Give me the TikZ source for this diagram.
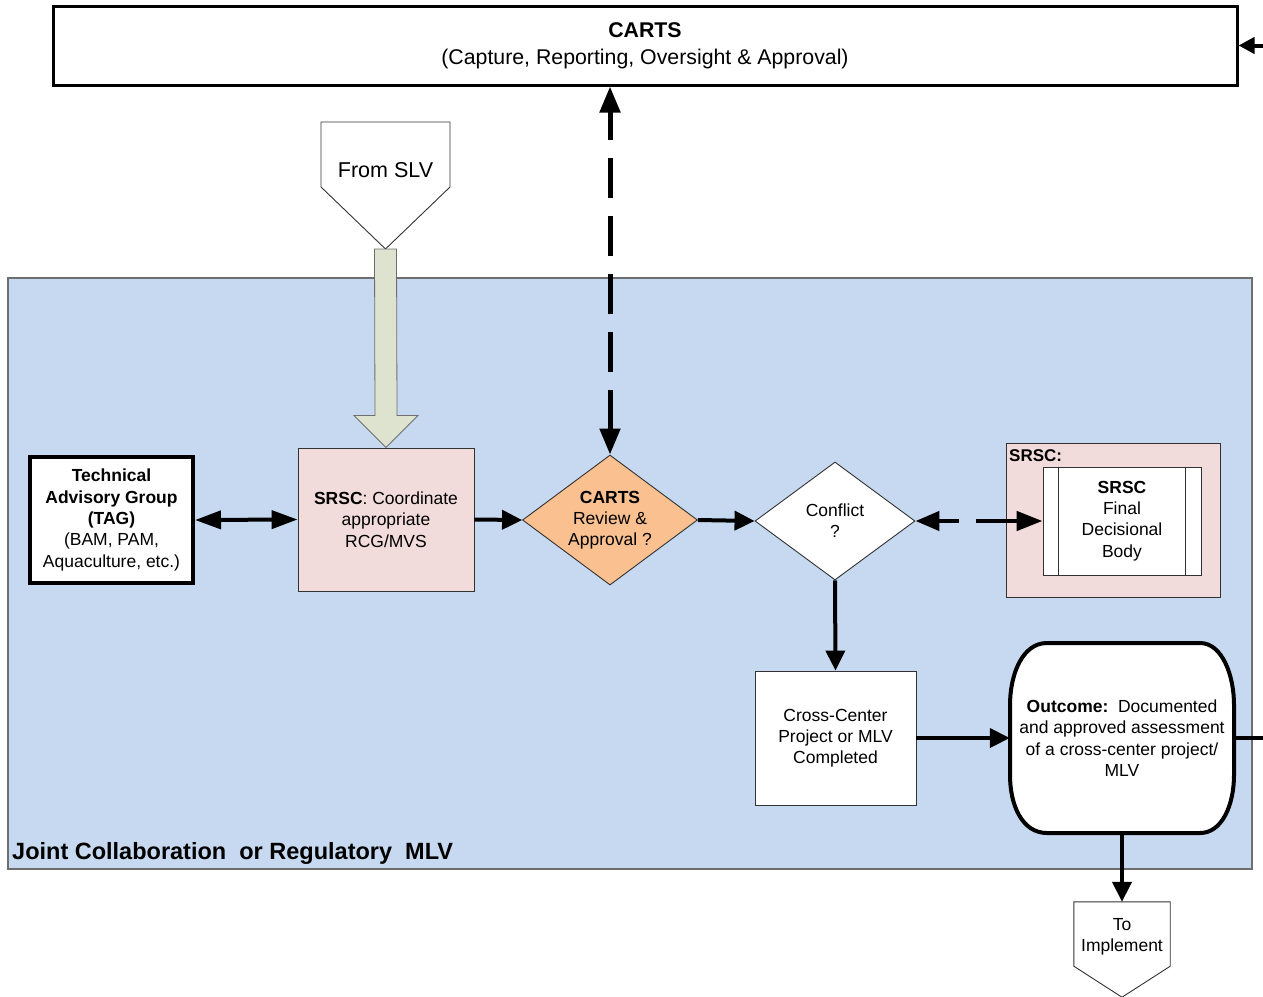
\documentclass[tikz,border=0pt]{standalone}
\usepackage{fontspec}
\setmainfont{Liberation Sans}
\usetikzlibrary{arrows.meta,shapes.geometric,calc}
\definecolor{bluebg}{RGB}{198,217,240}
\definecolor{pinkbox}{RGB}{242,220,219}
\definecolor{orangebox}{RGB}{250,192,144}
\definecolor{greenarr}{RGB}{221,227,206}
\definecolor{thinline}{RGB}{50,50,50}
\definecolor{regionline}{RGB}{110,110,110}
\begin{document}
\begin{tikzpicture}[x=1pt,y=-1pt,
  every node/.style={font=\fontsize{17.5}{21.3}\selectfont, align=center, inner sep=0pt},
  thinbox/.style={draw=thinline, line width=0.9pt},
  dia/.style={diamond, thinbox, inner sep=-25pt},
  flow/.style={line width=4pt, -{Triangle[length=20pt,width=19pt]}},
  dflow/.style={line width=4pt, {Triangle[length=26pt,width=18pt]}-{Triangle[length=26pt,width=18pt]}},
]
\useasboundingbox (0,0) rectangle (1263,996);

% region
\node[fill=bluebg, draw=regionline, line width=1.2pt, minimum width=1244pt, minimum height=591pt] (region) at (630,573.5) {};
\node[anchor=base west, font=\fontsize{23.5}{27}\selectfont\bfseries] (regionlabel) at (12,859) {Joint Collaboration\ \ or Regulatory\ \ MLV};

% CARTS top box
\node[draw, line width=3pt, fill=white, minimum width=1184pt, minimum height=79pt,
      font=\fontsize{21.3}{27}\selectfont] (carts) at (645,45.5)
  {\textbf{CARTS}\\(Capture, Reporting, Oversight \& Approval)};
\coordinate (rightin) at (1263,45.5);
\draw[line width=4pt, -{Triangle[length=16pt,width=16pt]}] (rightin) -- (carts.east);

% From SLV
\node[font=\fontsize{21.5}{24}\selectfont] (slv) at (385.5,170) {From SLV};
\draw[draw=thinline, line width=0.9pt] ($(slv)+(-64.5,-48)$) -- ($(slv)+(64.5,-48)$) -- ($(slv)+(64.5,17)$)
  -- ($(slv)+(0,79)$) -- ($(slv)+(-64.5,17)$) -- cycle;
\coordinate (slvtip) at ($(slv)+(0,79)$);

% TAG
\node[draw, line width=4pt, fill=white, minimum width=163pt, minimum height=126pt] (tag) at (111.5,520)
  {\textbf{Technical}\\\textbf{Advisory Group}\\\textbf{(TAG)}\\(BAM, PAM,\\Aquaculture, etc.)};

% SRSC coordinate
\node[thinbox, fill=pinkbox, minimum width=176pt, minimum height=143pt] (srsc) at (386,519.5)
  {\textbf{SRSC}: Coordinate\\appropriate\\RCG/MVS};

% green block arrow
\draw[draw=regionline, line width=0.8pt, fill=greenarr]
  ($(slvtip)+(-11,0)$) -- ($(slvtip)+(11,0)$) -- ($(srsc.north)+(11,-32)$) -- ($(srsc.north)+(32,-32)$)
  -- (srsc.north) -- ($(srsc.north)+(-32,-32)$) -- ($(srsc.north)+(-11,-32)$) -- cycle;

% CARTS diamond
\node[dia, fill=orangebox, minimum width=175pt, minimum height=130pt] (cdia) at (610,520)
  {\textbf{CARTS}\\Review \&\\Approval ?};

% Conflict diamond
\node[dia, fill=white, minimum width=160pt, minimum height=118pt] (conf) at (835,521)
  {Conflict\\?};

% SRSC final body
\node[thinbox, fill=pinkbox, minimum width=214pt, minimum height=154pt] (srscout) at (1113,520) {};
\node[anchor=west, font=\fontsize{17}{20}\selectfont\bfseries] (srsclabel) at (1009,456) {SRSC:};
\node[thinbox, fill=white, minimum width=158pt, minimum height=108pt] (srscfinal) at (1122,521)
  {\textbf{SRSC}\\Final\\Decisional\\Body};
\draw[draw=thinline, line width=0.9pt] ($(srscfinal.north west)+(16,0)$) -- ($(srscfinal.south west)+(16,0)$);
\draw[draw=thinline, line width=0.9pt] ($(srscfinal.north east)+(-16,0)$) -- ($(srscfinal.south east)+(-16,0)$);

% Cross-Center
\node[thinbox, fill=white, minimum width=161pt, minimum height=134pt] (cross) at (835.5,738)
  {Cross-Center\\Project or MLV\\Completed};

% Outcome
\draw[line width=4pt, fill=white]
  (1047,643) -- (1200,643) .. controls (1222,643) and (1234,675) .. (1234,705) -- (1234,775)
  .. controls (1234,805) and (1222,833) .. (1200,833) -- (1047,833)
  .. controls (1022,833) and (1010,805) .. (1010,775) -- (1010,705)
  .. controls (1010,675) and (1022,643) .. (1047,643) -- cycle;
\node[minimum width=224pt, minimum height=190pt] (outcome) at (1122,738)
  {\textbf{Outcome:}\ \ Documented\\and approved assessment\\of a cross-center project/\\MLV};
\coordinate (rightout) at (1263,738);

% To Implement
\node[minimum width=96pt, minimum height=70pt, font=\fontsize{17.5}{20.5}\selectfont] (toimp) at (1122,937) {To\\Implement};
\draw[draw=thinline, line width=0.9pt] (toimp.north west) -- (toimp.north east) -- ($(toimp.south east)+(0,-6)$)
  -- ($(toimp.south)+(0,25)$) -- ($(toimp.south west)+(0,-6)$) -- cycle;

% connectors
\draw[dflow] (tag.east) -- (srsc.west);
\draw[flow] (srsc.east) -- (cdia.west);
\draw[flow] (cdia.east) -- (conf.west);
\draw[line width=5pt, dash pattern=on 40pt off 18pt, {Triangle[length=26pt,width=20pt]}-{Triangle[length=26pt,width=20pt]}]
  (cdia.north) -- (cdia.north |- carts.south);
\draw[line width=4.5pt, dash pattern=on 42pt off 17pt, dash phase=21pt,
  {Triangle[length=24pt,width=19pt]}-{Triangle[length=26pt,width=19pt]}]
  (conf.east) -- (srscfinal.west);
\draw[flow] (conf.south) -- (cross.north);
\draw[flow] (cross.east) -- (outcome.west);
\draw[line width=4pt] (outcome.east) -- (rightout);
\draw[flow] (outcome.south) -- (toimp.north);
\end{tikzpicture}
\end{document}
